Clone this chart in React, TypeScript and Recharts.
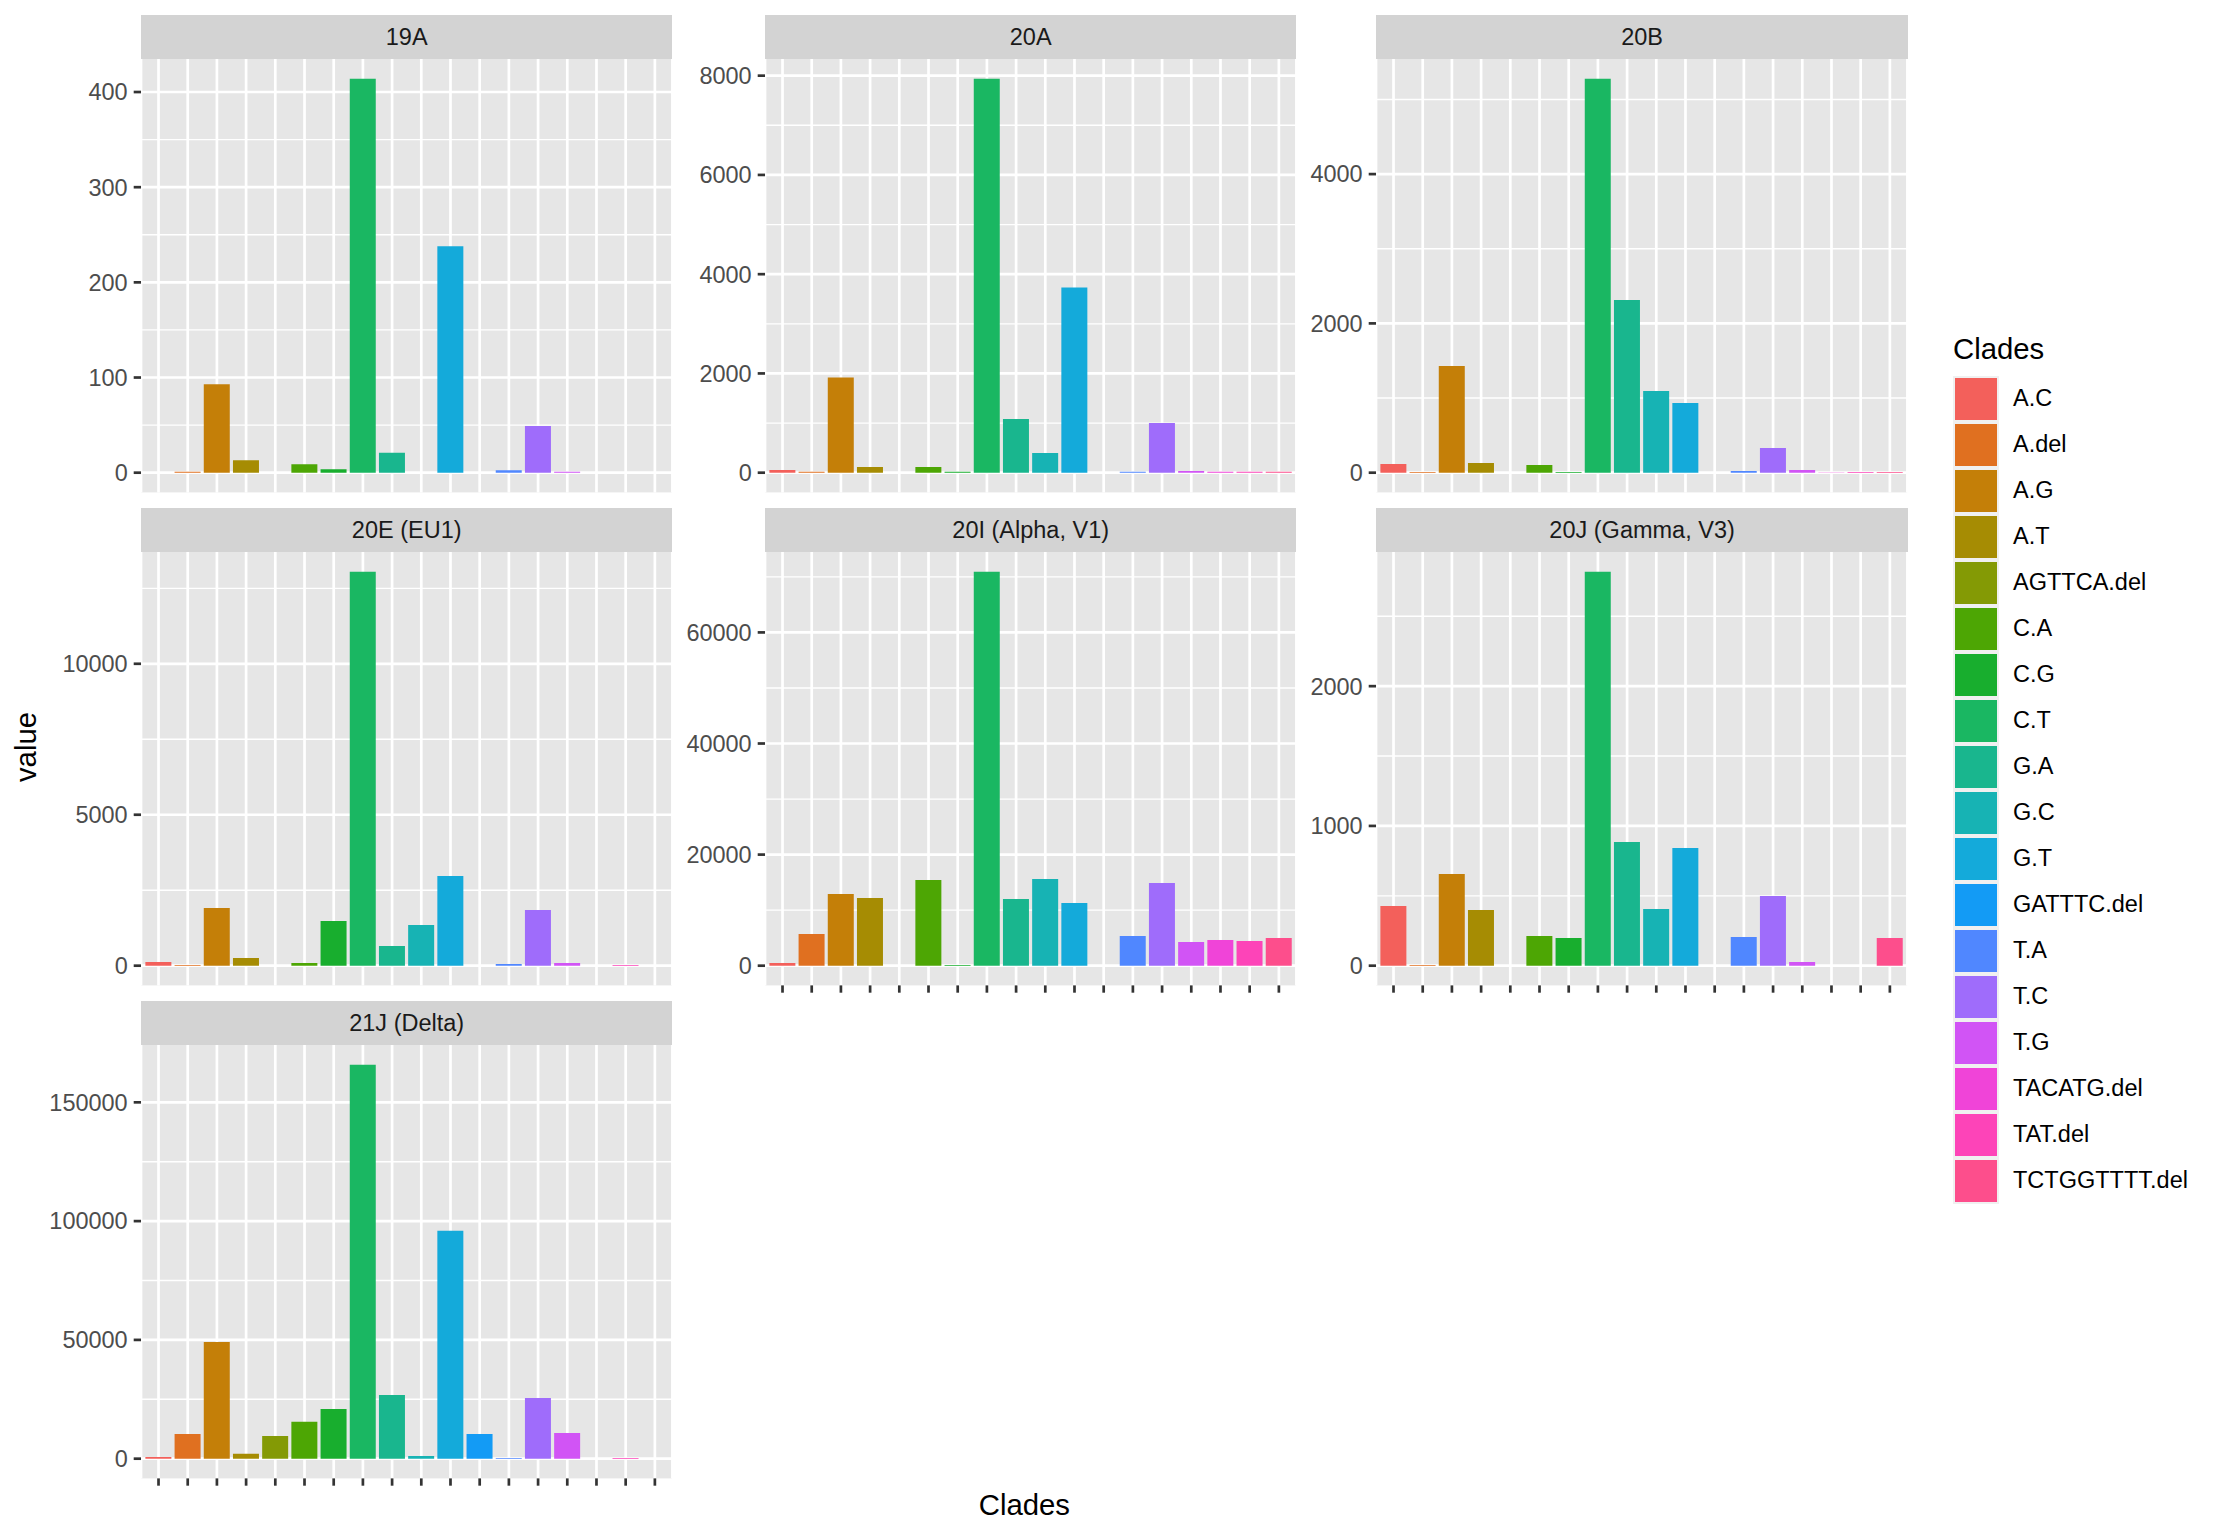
import { BarChart, Bar, XAxis, YAxis, CartesianGrid, Cell } from 'recharts'

const categories = [
  'A.C', 'A.del', 'A.G', 'A.T', 'AGTTCA.del', 'C.A', 'C.G', 'C.T', 'G.A',
  'G.C', 'G.T', 'GATTTC.del', 'T.A', 'T.C', 'T.G', 'TACATG.del', 'TAT.del', 'TCTGGTTTT.del',
]
const colors = [
  '#F3605B', '#E07020', '#C47F08', '#A68C03', '#849A05', '#4DA604', '#18AE2E', '#1AB762', '#19B68E',
  '#17B3B4', '#14AADA', '#139BF5', '#5087FF', '#9F6CFB', '#D154F5', '#F044D8', '#FD44B8', '#FD4E8C',
]

// counts per clade, same order as categories
const v19A = [0, 1, 93, 13, 0, 9, 3.5, 414, 21, 0, 238, 0, 2.5, 49, 1, 0, 0, 0]
const v20A = [54, 20, 1916, 114, 0, 114, 20, 7939, 1082, 397, 3731, 0, 20, 1002, 34, 20, 20, 20]
const v20B = [116, 9, 1430, 130, 0, 103, 9, 5278, 2315, 1095, 934, 0, 22, 331, 36, 3, 9, 9]
const v20E = [122, 22, 1912, 254, 0, 88, 1481, 13050, 652, 1348, 2972, 0, 55, 1845, 88, 0, 20, 0]
const v20I = [480, 5706, 12913, 12192, 0, 15435, 120, 70931, 12012, 15616, 11291, 0, 5345, 14895, 4264, 4625, 4444, 4985]
const v20J = [427, 5, 656, 399, 0, 212, 198, 2819, 885, 406, 842, 0, 205, 499, 26, 0, 0, 198]
const v21J = [733, 10411, 49120, 2053, 9531, 15543, 20968, 165836, 26833, 1173, 95894, 10411, 293, 25513, 10850, 0, 293, 0]

const ticks19A = [0, 100, 200, 300, 400]
const minor19A = [50, 150, 250, 350]
const ticks20A = [0, 2000, 4000, 6000, 8000]
const minor20A = [1000, 3000, 5000, 7000]
const ticks20B = [0, 2000, 4000]
const minor20B = [1000, 3000, 5000]
const ticks20E = [0, 5000, 10000]
const minor20E = [2500, 7500, 12500]
const ticks20I = [0, 20000, 40000, 60000]
const minor20I = [10000, 30000, 50000, 70000]
const ticks20J = [0, 1000, 2000]
const minor20J = [500, 1500, 2500]
const ticks21J = [0, 50000, 100000, 150000]
const minor21J = [25000, 75000, 125000]

const panels = [
  { clade: '19A', values: v19A, ticks: ticks19A, minor: minor19A, row: 0, col: 0, bottom: false },
  { clade: '20A', values: v20A, ticks: ticks20A, minor: minor20A, row: 0, col: 1, bottom: false },
  { clade: '20B', values: v20B, ticks: ticks20B, minor: minor20B, row: 0, col: 2, bottom: false },
  { clade: '20E (EU1)', values: v20E, ticks: ticks20E, minor: minor20E, row: 1, col: 0, bottom: false },
  { clade: '20I (Alpha, V1)', values: v20I, ticks: ticks20I, minor: minor20I, row: 1, col: 1, bottom: true },
  { clade: '20J (Gamma, V3)', values: v20J, ticks: ticks20J, minor: minor20J, row: 1, col: 2, bottom: true },
  { clade: '21J (Delta)', values: v21J, ticks: ticks21J, minor: minor21J, row: 2, col: 0, bottom: true },
]

const FONT = '"Liberation Sans", Arial, Helvetica, sans-serif'
const PW = 531.4
const PH = 433.4
const STRIP = 44.3
const COL_LEFT = [141, 765, 1376.4]
const ROW_TOP = [15, 508, 1001]
const YW = 130
const TOPM = 12
const XH = 10
const PAD = (PW / 18.2) * 0.1

function Panel({ p }: { p: (typeof panels)[number] }) {
  const data = categories.map((name, i) => ({ name, value: p.values[i] }))
  const max = Math.max(...p.values)
  const left = COL_LEFT[p.col]
  const top = ROW_TOP[p.row]
  return (
    <>
      <div style={{ position: 'absolute', left, top, width: PW, height: STRIP, background: '#D3D3D3', color: '#1A1A1A', fontSize: 23.5, display: 'flex', alignItems: 'center', justifyContent: 'center' }}>
        {p.clade}
      </div>
      <div style={{ position: 'absolute', left: left - YW, top: top + STRIP - TOPM }}>
        <BarChart width={YW + PW} height={TOPM + PH + XH} data={data} margin={{ top: TOPM, right: 0, bottom: 0, left: 0 }} barCategoryGap="5%">
          <CartesianGrid fill="#E6E6E6" fillOpacity={1} stroke="#fff" strokeWidth={1.35} vertical={false} horizontalValues={p.minor} />
          <CartesianGrid stroke="#fff" strokeWidth={2.7} horizontalValues={p.ticks} />
          <XAxis dataKey="name" type="category" interval={0} padding={{ left: PAD, right: PAD }} height={XH} axisLine={false}
            tickSize={7.3} tickLine={p.bottom ? { stroke: '#333333', strokeWidth: 2.7 } : false} tickFormatter={() => ''} />
          <YAxis type="number" domain={[-0.05 * max, 1.05 * max]} allowDataOverflow ticks={p.ticks} width={YW} axisLine={false}
            tickSize={7.3} tickMargin={6} tickLine={{ stroke: '#333333', strokeWidth: 2.7 }}
            tick={{ fill: '#4D4D4D', fontSize: 23.5, fontFamily: FONT }} />
          <Bar dataKey="value" isAnimationActive={false}>
            {data.map((d, i) => <Cell key={d.name} fill={colors[i]} />)}
          </Bar>
        </BarChart>
      </div>
    </>
  )
}

export default function App() {
  return (
    <div style={{ position: 'absolute', left: 0, top: 0, width: 2220, height: 1536, background: '#fff', fontFamily: FONT, overflow: 'hidden' }}>
      {panels.map(p => <Panel key={p.clade} p={p} />)}
      <div style={{ position: 'absolute', left: 25.5, top: 747, transform: 'translate(-50%, -50%) rotate(-90deg)', fontSize: 29.3, lineHeight: 1, whiteSpace: 'nowrap', color: '#000' }}>value</div>
      <div style={{ position: 'absolute', left: 1024.4, top: 1505, transform: 'translate(-50%, -50%)', fontSize: 29.3, lineHeight: 1, whiteSpace: 'nowrap', color: '#000' }}>Clades</div>
      <div style={{ position: 'absolute', left: 1953, top: 334, fontSize: 29.3, lineHeight: '29.3px', color: '#000' }}>Clades</div>
      {categories.map((c, i) => (
        <div key={c}>
          <div style={{ position: 'absolute', left: 1953, top: 375.7 + i * 46, width: 46, height: 46, background: '#F0F0F0' }}>
            <div style={{ position: 'absolute', left: 2, top: 2, width: 42, height: 42, background: colors[i] }} />
          </div>
          <div style={{ position: 'absolute', left: 2013, top: 375.7 + i * 46, height: 46, display: 'flex', alignItems: 'center', fontSize: 23.5, color: '#000', whiteSpace: 'nowrap' }}>{c}</div>
        </div>
      ))}
    </div>
  )
}
